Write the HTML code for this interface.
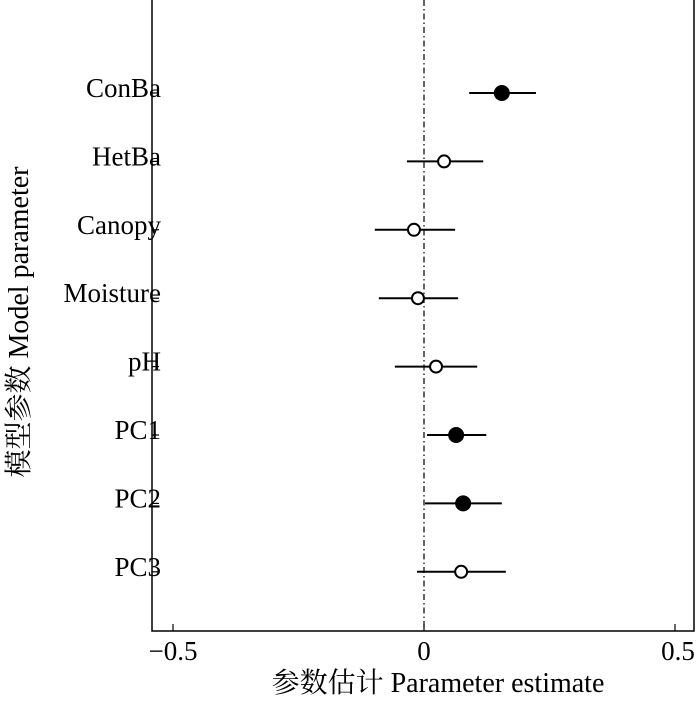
<!DOCTYPE html>
<html><head><meta charset="utf-8"><style>
body{margin:0;background:#fff}
svg text{font-family:"Liberation Serif","Noto Serif CJK SC",serif;fill:#000}
</style></head><body>
<svg width="700" height="696" xmlns="http://www.w3.org/2000/svg">
<g id="g"></g>
</svg>
<script>
const params=["ConBa","HetBa","Canopy","Moisture","pH","PC1","PC2","PC3"];
const estimates=[0.155,0.04,-0.02,-0.012,0.024,0.064,0.078,0.074];
const lowers=[0.09,-0.034,-0.098,-0.09,-0.058,0.006,0.002,-0.014];
const uppers=[0.223,0.118,0.062,0.068,0.106,0.124,0.155,0.163];
const significant=[true,false,false,false,false,true,true,false];
const xTicks=[-0.5,0,0.5];
const xTickLabels=["\u22120.5","0","0.5"];
const L=152,R=694,T=-1,B=631;
const x=v=>424+v*502;
const y=i=>93+i*68.4;
const NS="http://www.w3.org/2000/svg";
const g=document.getElementById('g');
function mk(t,a,txt){const e=document.createElementNS(NS,t);for(const k in a)e.setAttribute(k,a[k]);if(txt!=null)e.textContent=txt;g.appendChild(e);return e;}
let e=mk('rect',{x:L,y:T,width:R-L,height:B-T,fill:'none',stroke:'#000','stroke-width':1.5});

e=mk('line',{x1:x(0),x2:x(0),y1:0,y2:B,stroke:'#000','stroke-width':1.2,'stroke-dasharray':'6,3,1.5,3'});

xTicks.forEach((v,i)=>{
 let t=mk('line',{x1:x(v),x2:x(v),y1:B,y2:B-7,stroke:'#000','stroke-width':1.2});
 
 let l=mk('text',{x:x(v)+(v>0.4?3:0),y:B+29,'font-size':27,'text-anchor':'middle'},xTickLabels[i]);
 
});
params.forEach((p,i)=>{
 const yy=y(i);
 let t=mk('line',{x1:L,x2:L+7,y1:yy,y2:yy,stroke:'#000','stroke-width':1.2});
 
 let l=mk('text',{x:L+9,y:yy+4,'font-size':27,'text-anchor':'end'},p);
 
 let ci=mk('line',{x1:x(lowers[i]),x2:x(uppers[i]),y1:yy,y2:yy,stroke:'#000','stroke-width':2});
 
 let c=mk('circle',{cx:x(estimates[i]),cy:yy,r:significant[i]?7:6,fill:significant[i]?'#000':'#fff',stroke:'#000','stroke-width':2});
 
});
e=mk('text',{x:438,y:692,'font-size':28,'text-anchor':'middle'},"参数估计 Parameter estimate");

e=mk('text',{x:0,y:0,'font-size':28,'text-anchor':'middle',transform:'translate(28,322) rotate(-90)'},"模型参数 Model parameter");

</script>
</body></html>
